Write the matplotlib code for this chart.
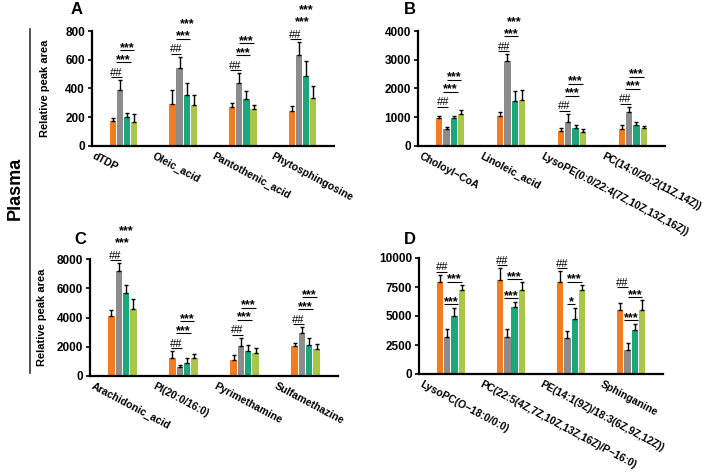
import matplotlib
matplotlib.use("Agg")
from matplotlib import pyplot as plt
from matplotlib.lines import Line2D
from matplotlib.transforms import ScaledTranslation
import numpy as np

plt.rcParams["font.family"] = ["Liberation Sans", "DejaVu Sans"]

# bar colours for the four groups (same order in every panel)
colors = ["#F47C20", "#8C8C8C", "#1BA67B", "#A8C64A"]

# Panel A
a_names = ["dTDP", "Oleic_acid", "Pantothenic_acid", "Phytosphingosine"]
a_means = [[177, 293, 274, 240],
           [391, 540, 435, 635],
           [205, 358, 326, 486],
           [170, 288, 258, 335]]
a_errs = [[21, 95, 26, 41],
          [65, 81, 70, 88],
          [27, 77, 55, 105],
          [51, 70, 30, 81]]
a_ticks = [0, 200, 400, 600, 800]

# Panel B
b_names = ["Choloyl\u2212CoA", "Linoleic_acid", "LysoPE(0:0/22:4(7Z,10Z,13Z,16Z))",
           "PC(14:0/20:2(11Z,14Z))"]
b_means = [[968, 1060, 507, 600],
           [588, 2963, 830, 1199],
           [968, 1579, 611, 715],
           [1130, 1602, 473, 622]]
b_errs = [[92, 139, 127, 115],
          [69, 230, 288, 173],
          [81, 323, 104, 115],
          [126, 346, 127, 81]]
b_ticks = [0, 1000, 2000, 3000, 4000]

# Panel C
c_names = ["Arachidonic_acid", "PI(20:0/16:0)", "Pyrimethamine", "Sulfamethazine"]
c_means = [[4092, 1264, 1103, 2023],
           [7172, 598, 2046, 2920],
           [5701, 897, 1701, 2092],
           [4575, 1218, 1540, 1862]]
c_errs = [[414, 414, 345, 253],
          [529, 161, 575, 413],
          [529, 344, 391, 529],
          [666, 253, 391, 345]]
c_ticks = [0, 2000, 4000, 6000, 8000]

# Panel D
d_names = ["LysoPC(O\u221218:0/0:0)", "PC(22:5(4Z,7Z,10Z,13Z,16Z)/P\u221216:0)",
           "PE(14:1(9Z)/18:3(6Z,9Z,12Z))", "Sphinganine"]
d_means = [[7896, 8098, 7896, 5476],
           [3170, 3228, 3084, 2075],
           [5014, 5764, 4755, 3804],
           [7262, 7262, 7233, 5533]]
d_errs = [[663, 1037, 951, 634],
          [692, 634, 662, 576],
          [663, 432, 922, 490],
          [433, 663, 462, 807]]
d_ticks = [0, 2500, 5000, 7500, 10000]
d_lower_marks = ["***", "***", "*", "***"]

W, H = 708, 475
fig = plt.figure(figsize=(W / 100, H / 100), dpi=100)

bar_w = 0.105
bar_step = 0.12


def axes_at(left, right, top, bottom):
    return fig.add_axes([left / W, 1 - bottom / H, (right - left) / W, (bottom - top) / H])


def mark(ax, xc, y, text, half, px):
    # short line with the significance sign sitting on it
    ax.plot([xc - half, xc + half], [y, y], color="black", lw=0.8, solid_capstyle="butt")
    if text.startswith("#"):
        ax.text(xc, y + 1.5 * px, text, ha="center", va="baseline", fontsize=8)
    else:
        ax.text(xc, y - 0.7 * px, text, ha="center", va="baseline", fontsize=9,
                fontweight="bold")


def draw_panel(ax, names, means, errs, ticks, d_style=False, lower_marks=None):
    means = np.array(means, dtype=float)
    errs = np.array(errs, dtype=float)
    x = np.arange(len(names))
    offs = (np.arange(4) - 1.5) * bar_step
    for k in range(4):
        ax.bar(x + offs[k], means[k], width=bar_w, color=colors[k],
               yerr=[np.zeros(len(names)), errs[k]],
               error_kw=dict(ecolor="black", elinewidth=1.0, capsize=1.5, capthick=1.0))
    ymax = ticks[-1]
    ax.set_ylim(0, ymax)
    ax.set_xlim(-0.53, len(names) - 1 + 0.53)
    ax.set_yticks(ticks)
    ax.set_yticklabels([str(t) for t in ticks], fontsize=8.5, fontweight="bold")
    ax.set_xticks([])
    # slanted category names, starting a bit left of each group
    trans = ax.get_xaxis_transform() + ScaledTranslation(-0.28, -0.05, fig.dpi_scale_trans)
    for xi, name in zip(x, names):
        ax.text(xi, 0, name, transform=trans, rotation=-28, ha="left", va="top",
                rotation_mode="anchor", fontsize=7.6, fontweight="bold")
    for s in ["top", "right"]:
        ax.spines[s].set_visible(False)
    for s in ["left", "bottom"]:
        ax.spines[s].set_linewidth(1.6)
    ax.tick_params(axis="y", length=3, width=1.2, pad=2)

    # pixel -> data conversion for placing the significance marks
    px = ymax / (ax.get_position().height * H)
    tops = means + errs
    for g in range(len(names)):
        xo, xg, xgr, xy = x[g] + offs
        if not d_style:
            base = tops[:, g].max()
            mark(ax, (xo + xg) / 2, base + 3 * px, "##", 0.09, px)
            mark(ax, (xg + xgr) / 2, base + 18 * px, "***", 0.12, px)
            mark(ax, (xg + xy) / 2, base + 30 * px, "***", 0.12, px)
        else:
            upper = max(tops[3, g], tops[1, g]) + 3 * px
            lower = tops[2, g] + 4 * px
            hash_y = max(tops[0, g] + 3 * px, upper + 10 * px)
            mark(ax, xo + 0.03, hash_y, "##", 0.09, px)
            mark(ax, (xg + xy) / 2, upper, "***", 0.12, px)
            half = 0.12 if lower_marks[g] == "***" else 0.06
            mark(ax, (xg + xgr) / 2, lower, lower_marks[g], half, px)


ax_a = axes_at(92, 334, 31, 146)
ax_b = axes_at(418, 665, 31, 146)
ax_c = axes_at(90, 338, 259, 376)
ax_d = axes_at(419, 663, 258, 374)

draw_panel(ax_a, a_names, a_means, a_errs, a_ticks)
draw_panel(ax_b, b_names, b_means, b_errs, b_ticks)
draw_panel(ax_c, c_names, c_means, c_errs, c_ticks)
draw_panel(ax_d, d_names, d_means, d_errs, d_ticks, d_style=True, lower_marks=d_lower_marks)

for ax in (ax_a, ax_c):
    ax.set_ylabel("Relative peak area", fontsize=8, fontweight="bold")
    ax.yaxis.set_label_coords(-0.175, 0.5)

for lab, (px_x, px_y) in zip("ABCD", [(77, 10), (410, 9), (80, 240), (410, 240)]):
    fig.text(px_x / W, 1 - px_y / H, lab, fontsize=12, fontweight="bold",
             ha="center", va="center")

fig.text(15 / W, 1 - 188 / H, "Plasma", rotation=90, fontsize=13, fontweight="bold",
         ha="center", va="center")
fig.add_artist(Line2D([30 / W, 30 / W], [1 - 29 / H, 1 - 373 / H], color="#333333", lw=1.2))

fig.savefig("out.png", dpi=100)
